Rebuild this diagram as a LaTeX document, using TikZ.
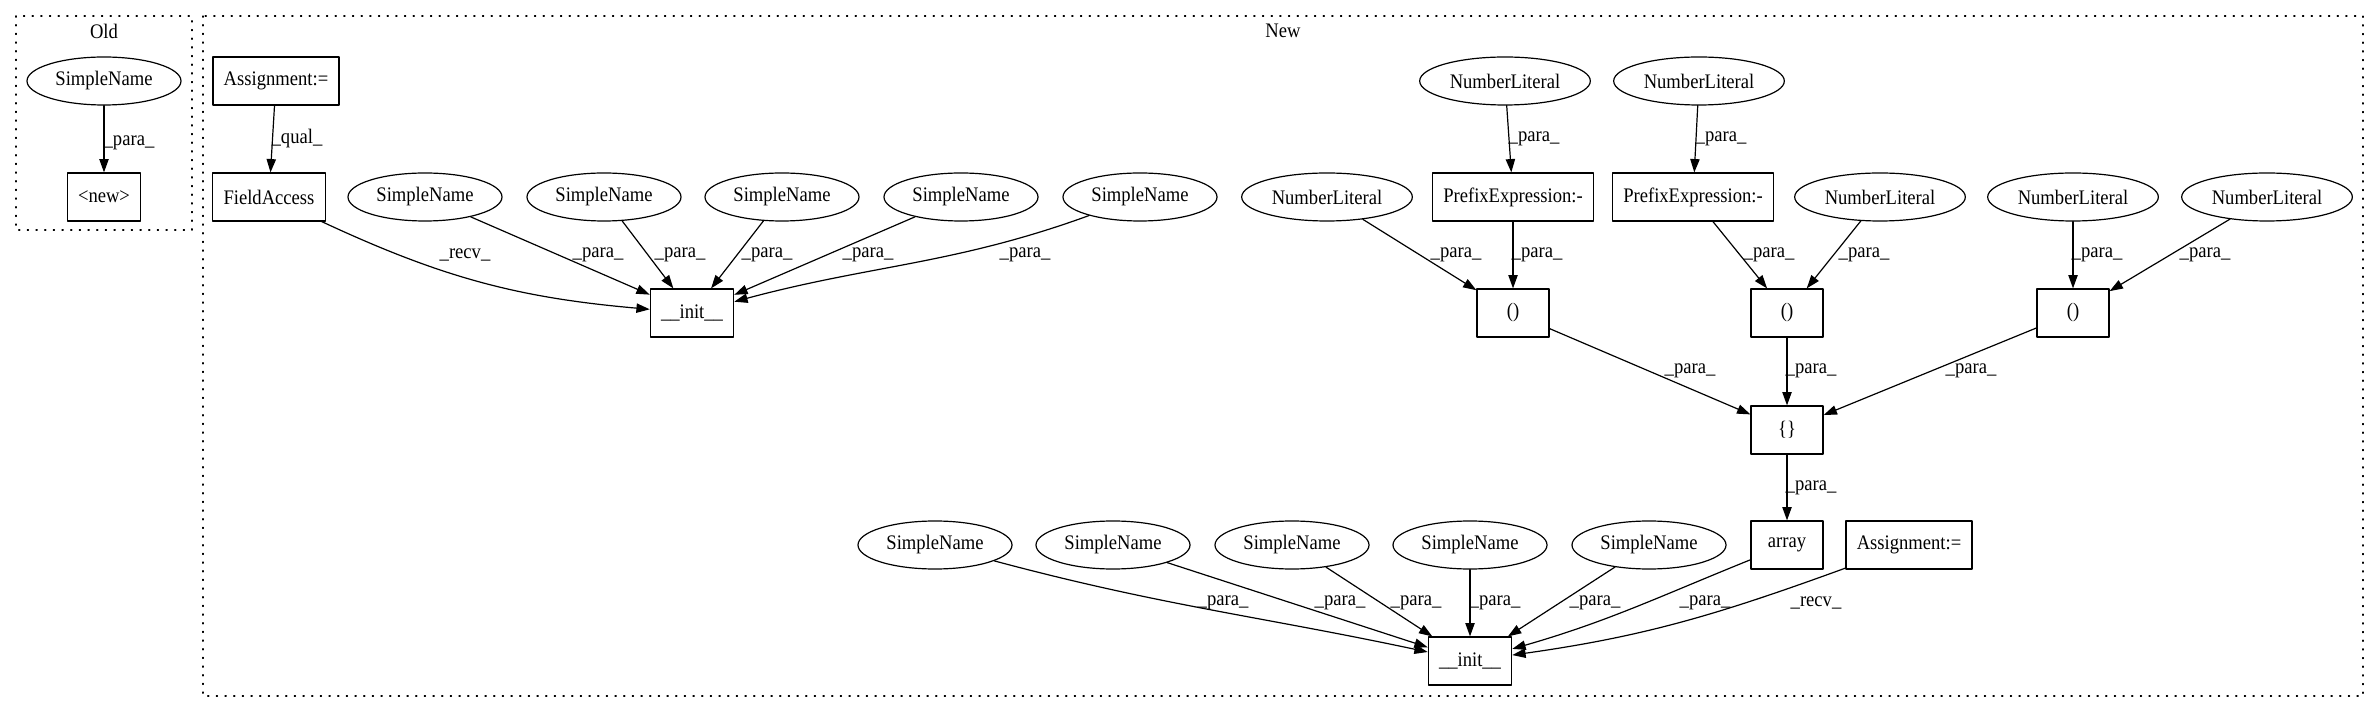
\documentclass[tikz,border=0pt]{standalone}
\usepackage{fontspec}
\setmainfont[FakeStretch=0.9]{Liberation Serif}
\usetikzlibrary{arrows.meta,shapes.geometric}
\tikzset{
    txt/.style={
        font=\fontsize{15.5}{18}\selectfont
    },
    box/.style={txt, draw, rectangle, line width=0.9pt,
        minimum height=36pt, minimum width=54pt, inner xsep=8pt, inner ysep=0pt},
    oval/.style={txt, draw, ellipse, line width=0.9pt,
        minimum height=36pt, inner sep=0pt},
    sname/.style={oval, minimum width=115.5pt},
    nlit/.style={oval, minimum width=128pt},
    edge/.style={-{Triangle[length=10pt,width=7pt]}, line width=0.9pt},
    lab/.style={txt, inner sep=0pt},
    cluster/.style={line width=0.9pt, dash pattern=on 0.9pt off 5.6pt}
}

\begin{document}
\begin{tikzpicture}[x=0.75pt, y=0.75pt, line cap=round, line join=round]
\useasboundingbox (0,0) rectangle (2379,-712);

% clusters
\draw[cluster] (16,-16) rectangle (192,-230);
\draw[cluster] (203,-16) rectangle (2363,-696);
\node[lab] (oldlab) at (104,-31) {Old};
\node[lab] (newlab) at (1283,-31) {New};

% Old
\node[sname] (oldsn) at (104,-81) {SimpleName};
\node[box] (oldnew) at (104,-197) {<new>};
\draw[edge] (oldsn) -- (oldnew);
\node[lab] (loldsn) at (129,-143) {\_para\_};

% New: first __init__
\node[box] (asgtop) at (276,-81) {Assignment:=};
\node[box] (fa) at (269,-197) {FieldAccess};
\node[box] (inittop) at (692,-313) {\_\_init\_\_};
\foreach \n/\x in {1/425,2/604,3/782,4/961,5/1140}
  \node[sname] (sn\n) at (\x,-197) {SimpleName};

\draw[edge] (asgtop) -- (fa);
\draw[edge] (fa) to[out=-25,in=175] (inittop);
\foreach \n in {1,...,4}
  \draw[edge] (sn\n) -- (inittop);
\draw[edge] (sn5) to[out=200,in=15] (inittop);

\node[lab] (lqual) at (297,-139) {\_qual\_};
\node[lab] (lrecv) at (465,-255) {\_recv\_};
\foreach \n/\x in {1/598,2/680,3/767,4/868,5/1025}
  \node[lab] (lsn\n) at (\x,-255) {\_para\_};

% New: literals, () and {}
\node[nlit] (nltop1) at (1505,-81) {NumberLiteral};
\node[nlit] (nltop2) at (1699,-81) {NumberLiteral};
\node[nlit] (nlm1) at (1327,-197) {NumberLiteral};
\node[box] (pre1) at (1513,-197) {PrefixExpression:-};
\node[box] (pre2) at (1693,-197) {PrefixExpression:-};
\node[nlit] (nlm2) at (1880,-197) {NumberLiteral};
\node[nlit] (nlm3) at (2073,-197) {NumberLiteral};
\node[nlit] (nlm4) at (2267,-197) {NumberLiteral};
\node[box] (par1) at (1513,-313) {()};
\node[box] (par2) at (1787,-313) {()};
\node[box] (par3) at (2073,-313) {()};
\node[box] (brace) at (1787,-430) {\{\}};
\node[box] (arr) at (1787,-545) {array};

\draw[edge] (nltop1) -- (pre1);
\draw[edge] (nltop2) -- (pre2);
\draw[edge] (nlm1) -- (par1);
\draw[edge] (pre1) -- (par1);
\draw[edge] (pre2) -- (par2);
\draw[edge] (nlm2) -- (par2);
\draw[edge] (nlm3) -- (par3);
\draw[edge] (nlm4) -- (par3);
\foreach \p in {1,2,3}
  \draw[edge] (par\p) -- (brace);
\draw[edge] (brace) -- (arr);

\node[lab] (lpre1) at (1534,-139) {\_para\_};
\node[lab] (lpre2) at (1721,-139) {\_para\_};
\node[lab] (lnlm1) at (1456,-255) {\_para\_};
\node[lab] (lpar1) at (1537,-255) {\_para\_};
\node[lab] (lpar2) at (1769,-255) {\_para\_};
\node[lab] (lnlm2) at (1864,-255) {\_para\_};
\node[lab] (lnlm3) at (2097,-255) {\_para\_};
\node[lab] (lnlm4) at (2205,-255) {\_para\_};
\node[lab] (lbr1) at (1690,-371) {\_para\_};
\node[lab] (lbr2) at (1811,-371) {\_para\_};
\node[lab] (lbr3) at (1971,-371) {\_para\_};
\node[lab] (larr) at (1811,-488) {\_para\_};

% New: second __init__
\node[box] (asgbot) at (1909,-545) {Assignment:=};
\foreach \n/\x in {1/935,2/1113,3/1292,4/1470,5/1649}
  \node[sname] (snb\n) at (\x,-545) {SimpleName};
\node[box] (initbot) at (1470,-661) {\_\_init\_\_};

\draw[edge] (snb1) to[out=-15,in=168] (initbot);
\foreach \n in {2,...,5}
  \draw[edge] (snb\n) -- (initbot);
\draw[edge] (arr) to[out=202,in=16] (initbot);
\draw[edge] (asgbot) to[out=200,in=8] (initbot);

\foreach \n/\x in {1/1223,2/1340,3/1416,4/1495,5/1595}
  \node[lab] (lsnb\n) at (\x,-603) {\_para\_};
\node[lab] (linit) at (1705,-603) {\_para\_};
\node[lab] (lrecvb) at (1816,-603) {\_recv\_};

\end{tikzpicture}
\end{document}
